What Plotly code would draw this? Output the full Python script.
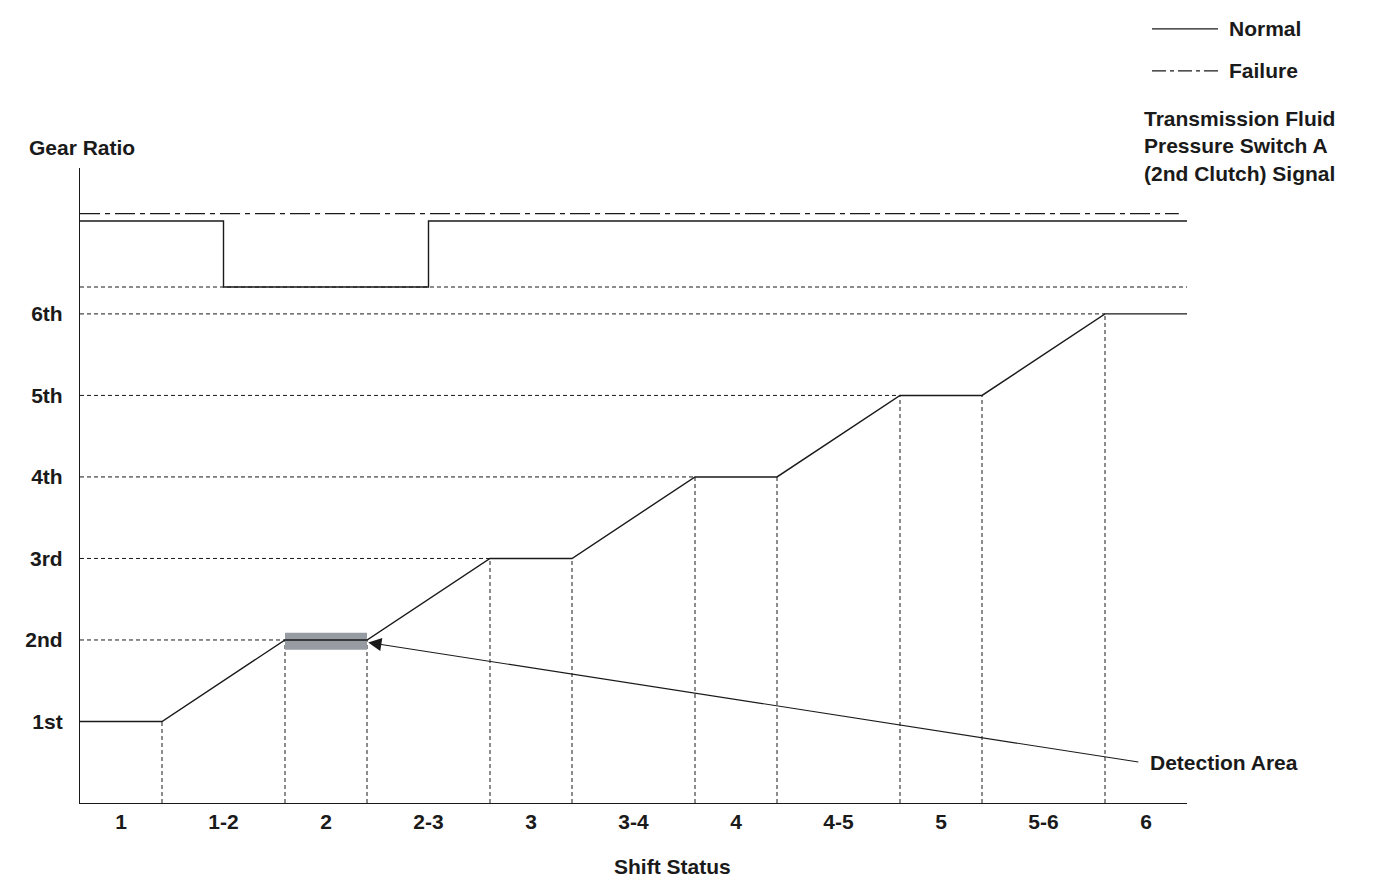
"""Gear ratio vs shift status with pressure switch A signal."""

import plotly.graph_objects as go

# Shift status segments (x edges) and their labels
SEGMENT_EDGES = [0, 2, 5, 7, 10, 12, 15, 17, 20, 22, 25, 27]
SHIFT_LABELS = ["1", "1-2", "2", "2-3", "3", "3-4", "4", "4-5", "5", "5-6", "6"]

# Gear ratio axis
GEAR_LEVELS = [1, 2, 3, 4, 5, 6]
GEAR_LABELS = ["1st", "2nd", "3rd", "4th", "5th", "6th"]

# Normal gear ratio trace
GEAR_X = [0, 2, 5, 7, 10, 12, 15, 17, 20, 22, 25, 27]
GEAR_Y = [1, 1, 2, 2, 3, 3, 4, 4, 5, 5, 6, 6]

# Pressure switch A signal levels
SIGNAL_HIGH = 7.14
SIGNAL_LOW = 6.33
SIGNAL_X = [0, 3.5, 3.5, 8.5, 8.5, 27]
SIGNAL_Y = [SIGNAL_HIGH, SIGNAL_HIGH, SIGNAL_LOW, SIGNAL_LOW, SIGNAL_HIGH, SIGNAL_HIGH]
FAILURE_X = [0, 26.8]
FAILURE_Y = [7.23, 7.23]

# Detection area (2nd gear hold)
DETECT_X = [5, 7]
DETECT_Y = [1.88, 2.09]
ARROW_TAIL = (25.85, 0.50)

INK = "#1a1a1a"
FONT = dict(family="Liberation Sans, Arial, sans-serif", size=21, color=INK, weight="bold")

fig = go.Figure()

# dotted guide lines: verticals from each gear break down to the axis,
# horizontals from the y axis to where each gear is first reached
gx, gy = [], []
for x, y in zip(GEAR_X[1:-1], GEAR_Y[1:-1]):
    gx += [x, x, None]
    gy += [0, y, None]
for lvl in GEAR_LEVELS[1:]:
    first_x = GEAR_X[GEAR_Y.index(lvl)]
    gx += [0, first_x, None]
    gy += [lvl, lvl, None]
gx += [0, SEGMENT_EDGES[-1]]
gy += [SIGNAL_LOW, SIGNAL_LOW]
fig.add_trace(go.Scatter(
    x=gx, y=gy, mode="lines", hoverinfo="skip",
    line=dict(color=INK, width=1, dash="4px,3px"),
))

# detection area band
fig.add_trace(go.Scatter(
    x=[DETECT_X[0], DETECT_X[1], DETECT_X[1], DETECT_X[0], DETECT_X[0]],
    y=[DETECT_Y[0], DETECT_Y[0], DETECT_Y[1], DETECT_Y[1], DETECT_Y[0]],
    mode="lines", fill="toself", fillcolor="#979ca2",
    line=dict(width=0), hoverinfo="skip",
))

# normal gear ratio
fig.add_trace(go.Scatter(
    x=GEAR_X, y=GEAR_Y, mode="lines", name="Normal",
    line=dict(color=INK, width=1.4),
))

# switch signal, normal and failure
fig.add_trace(go.Scatter(
    x=SIGNAL_X, y=SIGNAL_Y, mode="lines", name="Normal signal",
    line=dict(color=INK, width=1.4),
))
fig.add_trace(go.Scatter(
    x=FAILURE_X, y=FAILURE_Y, mode="lines", name="Failure",
    line=dict(color=INK, width=1.2, dash="20px,5px,5px,5px"),
))

centers = [(a + b) / 2 for a, b in zip(SEGMENT_EDGES[:-1], SEGMENT_EDGES[1:])]

# legend drawn by hand (top right)
fig.add_shape(type="line", xref="paper", yref="paper", x0=0.9684, x1=1.028,
              y0=1.219, y1=1.219, line=dict(color=INK, width=1.2))
fig.add_shape(type="line", xref="paper", yref="paper", x0=0.9684, x1=1.028,
              y0=1.153, y1=1.153, line=dict(color=INK, width=1.2, dash="14px,4px,4px,4px"))

annotations = [
    dict(text="Normal", xref="paper", yref="paper", x=1.0361, y=1.219,
         xanchor="left", yanchor="middle", showarrow=False),
    dict(text="Failure", xref="paper", yref="paper", x=1.0361, y=1.153,
         xanchor="left", yanchor="middle", showarrow=False),
    dict(text="Transmission Fluid<br>Pressure Switch A<br>(2nd Clutch) Signal",
         xref="paper", yref="paper", x=0.9593, y=1.0347, align="left",
         xanchor="left", yanchor="middle", showarrow=False),
    dict(text="High (Off)", xref="x", yref="y", x=27.24, y=7.23,
         xanchor="left", yanchor="middle", showarrow=False),
    dict(text="Low (On)", xref="x", yref="y", x=27.24, y=6.36,
         xanchor="left", yanchor="middle", showarrow=False),
    dict(text="Gear Ratio", xref="paper", yref="paper", x=0.002, y=1.0315,
         xanchor="center", yanchor="middle", showarrow=False),
    dict(text="Shift Status", xref="paper", yref="paper", x=0.535, y=-0.100,
         xanchor="center", yanchor="middle", showarrow=False),
    dict(text="Detection Area", xref="x", yref="y", x=ARROW_TAIL[0] + 0.2, y=ARROW_TAIL[1],
         xanchor="left", yanchor="middle", showarrow=False),
    dict(text="", xref="x", yref="y", x=DETECT_X[1] + 0.03, y=1.97,
         axref="x", ayref="y", ax=ARROW_TAIL[0], ay=ARROW_TAIL[1],
         showarrow=True, arrowhead=2, arrowsize=2.4, arrowwidth=1.1, arrowcolor=INK),
]
for a in annotations:
    a["font"] = FONT

# the page adds an 8px body margin, so margins are trimmed to match
fig.update_layout(
    width=1380, height=888,
    margin=dict(l=72, r=201, t=160, b=93),
    paper_bgcolor="white", plot_bgcolor="white",
    showlegend=False,
    annotations=annotations,
    xaxis=dict(
        range=[0, SEGMENT_EDGES[-1]], showgrid=False, zeroline=False,
        showline=True, linecolor=INK, linewidth=1.2,
        tickvals=centers, ticktext=SHIFT_LABELS, tickfont=FONT,
        ticks="", ticklen=0,
    ),
    yaxis=dict(
        range=[0, 7.79], showgrid=False, zeroline=False,
        showline=True, linecolor=INK, linewidth=1.2,
        tickvals=GEAR_LEVELS, ticktext=GEAR_LABELS, tickfont=FONT,
        ticks="outside", ticklen=12, tickcolor="rgba(0,0,0,0)",
    ),
)

fig.write_html("out.html")
